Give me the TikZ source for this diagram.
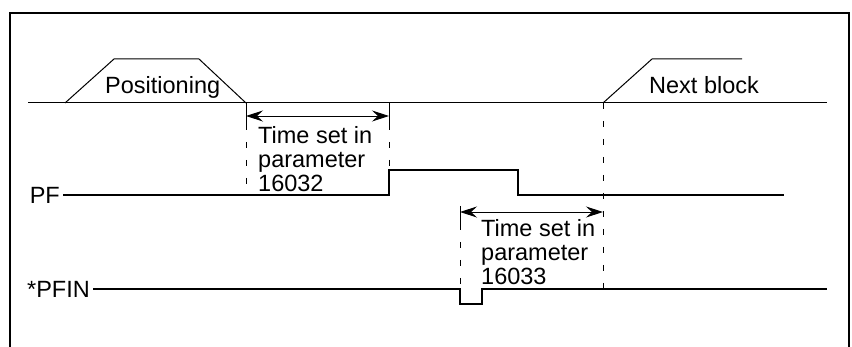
\documentclass[tikz,border=0pt]{standalone}
\usepackage{fontspec}
\setmainfont{Liberation Sans}
\usetikzlibrary{arrows.meta, positioning}

\begin{document}
\begin{tikzpicture}[x=1pt, y=-1pt, line join=miter,
	frame/.style={line width=2pt},
	signal/.style={line width=2pt},
	axis/.style={line width=1pt},
	guide/.style={line width=0.9pt, dash pattern=on 6.5pt off 11.5pt},
	extline/.style={line width=0.9pt},
	span/.style={line width=0.9pt, {Stealth[length=17pt,width=11pt,inset=6pt]}-{Stealth[length=17pt,width=11pt,inset=6pt]}},
	label/.style={font=\fontsize{23.5}{24}\selectfont, inner sep=0pt},
	note/.style={label, align=left, anchor=north west}]
	\useasboundingbox (0,0) rectangle (852,347);
	\draw[frame] (10,347) -- (10,13) -- (849,13) -- (849,347);

	\coordinate (ax0) at (28,103);
	\coordinate (ax1) at (827,103);
	\coordinate (p0) at (65,103);
	\coordinate (p1) at (114,59);
	\coordinate (p2) at (199,59);
	\coordinate (p3) at (246,103);
	\coordinate (n0) at (603,103);
	\coordinate (n1) at (652,59);
	\coordinate (n2) at (742,59);
	\draw[axis] (ax0) -- (ax1);
	\draw[axis] (p0) -- (p1) -- (p2) -- (p3);
	\draw[axis] (n0) -- (n1) -- (n2);
	\node[label, anchor=base west] (positioning) at (105,94) {Positioning};
	\node[label, anchor=base west] (nextblock) at (649,94) {Next block};

	\coordinate (pf0) at (63,195);
	\coordinate (pf1) at (389,195);
	\coordinate (pf2) at (389,170);
	\coordinate (pf3) at (518,170);
	\coordinate (pf4) at (518,195);
	\coordinate (pf5) at (784,195);
	\node[label, left=3pt of pf0] (pflabel) {PF};
	\draw[signal] (pf0) -- (pf1) -- (pf2) -- (pf3) -- (pf4) -- (pf5);

	\coordinate (q0) at (93,289);
	\coordinate (q1) at (460,289);
	\coordinate (q2) at (460,304);
	\coordinate (q3) at (482,304);
	\coordinate (q4) at (482,289);
	\coordinate (q5) at (827,289);
	\node[label, left=3pt of q0] (pfinlabel) {*PFIN};
	\draw[signal] (q0) -- (q1) -- (q2) -- (q3) -- (q4) -- (q5);

	\coordinate (a0) at (246,116);
	\coordinate (a1) at (389,116);
	\draw[extline] (p3) -- (246,124);
	\draw[guide] (246,124) -- (pf0 -| p3);
	\draw[extline] (389,103) -- (389,124);
	\draw[guide] (389,124) -- (pf2);
	\draw[span] (a0) -- (a1);
	\node[note] (note1) at (258,126) {Time set in\\parameter\\16032};

	\coordinate (b0) at (460,212);
	\coordinate (b1) at (603,212);
	\draw[extline] (460,206) -- (460,224);
	\draw[guide] (460,224) -- (q1);
	\draw[guide] (n0) -- (q5 -| n0);
	\draw[span] (b0) -- (b1);
	\node[note] (note2) at (481,219) {Time set in\\parameter\\16033};
\end{tikzpicture}
\end{document}
